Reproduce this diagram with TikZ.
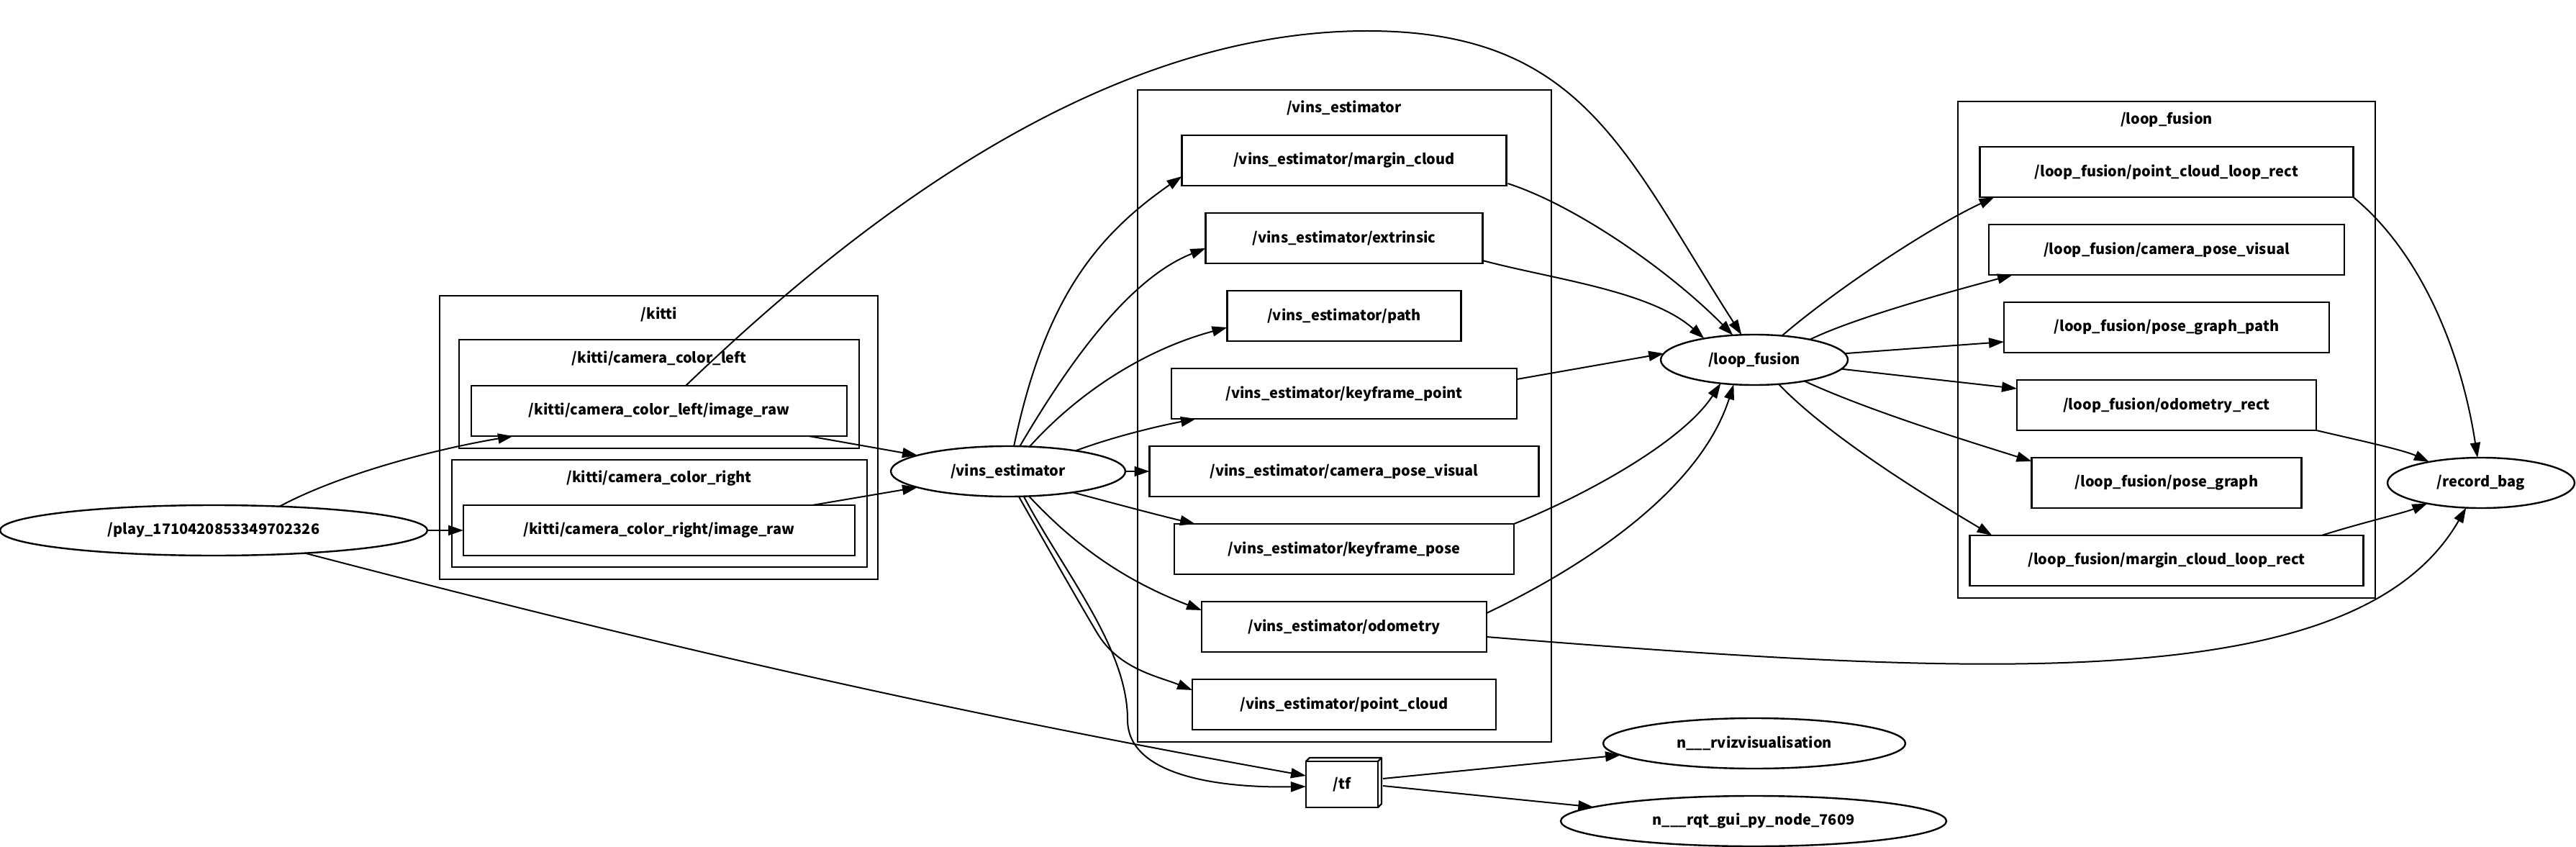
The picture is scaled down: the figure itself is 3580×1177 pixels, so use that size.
\documentclass[tikz,border=0pt]{standalone}
\usepackage{fontspec}
\setmainfont{Noto Sans CJK SC}
\usetikzlibrary{arrows.meta,calc,shapes.geometric}
\begin{document}
\begin{tikzpicture}[x=1pt,y=-1pt,
  lbl/.style={font=\fontsize{20}{24}\selectfont\bfseries, inner sep=0pt},
  topic/.style={draw, line width=2.6pt, rectangle, minimum height=70pt, inner sep=0pt, outer sep=0pt, font=\fontsize{20}{24}\selectfont\bfseries},
  gnode/.style={draw, line width=2.4pt, ellipse, minimum height=70pt, inner sep=0pt, outer sep=0pt, font=\fontsize{20}{24}\selectfont\bfseries},
  cluster/.style={draw, line width=2pt},
  edge/.style={line width=2pt, -{Triangle[length=21pt,width=14pt]}},
]
\fill[white] (0,0) rectangle (3580,1177);
\useasboundingbox (0,0) rectangle (3580,1177);

% clusters
\draw[cluster] (611,411) rectangle (1220,805);
\draw[cluster] (638,472) rectangle (1194,623);
\draw[cluster] (628,639) rectangle (1205,788);
\draw[cluster] (1581,125) rectangle (2156,1031);
\draw[cluster] (2721,141) rectangle (3301,831);
\node[lbl] (lkitti) at (916,437) {/kitti};
\node[lbl] (lkl) at (916,498) {/kitti/camera\_color\_left};
\node[lbl] (lkr) at (916,665) {/kitti/camera\_color\_right};
\node[lbl] (lvins) at (1868,150) {/vins\_estimator};
\node[lbl] (lloop) at (3011,166) {/loop\_fusion};

% nodes
\node[gnode, minimum width=594pt] (play) at (297,737) {/play\_1710420853349702326};
\node[topic, minimum width=522pt] (kl) at (916,571) {/kitti/camera\_color\_left/image\_raw};
\node[topic, minimum width=544pt] (kr) at (916,737) {/kitti/camera\_color\_right/image\_raw};
\node[gnode, minimum width=326pt] (vins) at (1401,655) {/vins\_estimator};
\node[topic, minimum width=451pt] (vmc) at (1868,223) {/vins\_estimator/margin\_cloud};
\node[topic, minimum width=385pt] (vex) at (1868,331) {/vins\_estimator/extrinsic};
\node[topic, minimum width=325pt] (vpath) at (1868,439) {/vins\_estimator/path};
\node[topic, minimum width=480pt] (vkp) at (1868,547) {/vins\_estimator/keyframe\_point};
\node[topic, minimum width=541pt] (vcp) at (1868,655) {/vins\_estimator/camera\_pose\_visual};
\node[topic, minimum width=472pt] (vkpose) at (1868,763) {/vins\_estimator/keyframe\_pose};
\node[topic, minimum width=396pt] (vodo) at (1868,871) {/vins\_estimator/odometry};
\node[topic, minimum width=422pt] (vpc) at (1868,979) {/vins\_estimator/point\_cloud};
\node[gnode, minimum width=260pt] (loopf) at (2438,500) {/loop\_fusion};
\node[topic, minimum width=519pt] (lpc) at (3011,239) {/loop\_fusion/point\_cloud\_loop\_rect};
\node[topic, minimum width=494pt] (lcpv) at (3011,347) {/loop\_fusion/camera\_pose\_visual};
\node[topic, minimum width=452pt] (lpgp) at (3011,455) {/loop\_fusion/pose\_graph\_path};
\node[topic, minimum width=416pt] (lodr) at (3011,563) {/loop\_fusion/odometry\_rect};
\node[topic, minimum width=375pt] (lpg) at (3011,671) {/loop\_fusion/pose\_graph};
\node[topic, minimum width=547pt] (lmc) at (3011,779) {/loop\_fusion/margin\_cloud\_loop\_rect};
\node[gnode, minimum width=260pt] (rb) at (3448,671) {/record\_bag};
\node[topic, minimum width=100pt, minimum height=64pt, line width=2.4pt] (tf) at (1865,1090) {/tf};
\draw[line width=2.2pt, line join=round] (tf.north west) -- ++(5,-5) -- ($(tf.north east)+(5,-5)$) -- ($(tf.south east)+(5,-5)$) -- (tf.south east);
\draw[line width=2.2pt] (tf.north east) -- ++(5,-5);
\node[gnode, minimum width=420pt] (rviz) at (2438,1033) {n\_\_\_rvizvisualisation};
\node[gnode, minimum width=536pt] (rqt) at (2437,1141) {n\_\_\_rqt\_gui\_py\_node\_7609};

% edges
\draw[edge] (play.20) .. controls (470,660) and (600,625) .. ($(kl.south west)+(58,0)$);
\draw[edge] (play.east) -- (kr.west);
\draw[edge] (play.-14) .. controls (923,899) and (1316,989) .. ($(tf.west)+(0,-12)$);
\draw[edge] ($(kl.south east)+(-53,0)$) -- (vins.170);
\draw[edge] ($(kr.north east)+(-59,0)$) -- (vins.190);
\draw[edge] ($(kl.north west)+(298,0)$) .. controls (1173,325) and (1520,43) .. (1900,43) .. controls (2200,43) and (2258,213) .. (loopf.117);

\draw[edge] (vins.77) .. controls (1451,420) and (1520,330) .. ($(vmc.west)+(0,22)$);
\draw[edge] (vins.65) .. controls (1478,517) and (1564,389) .. ($(vex.west)+(0,14)$);
\draw[edge] (vins.49) .. controls (1498,546) and (1590,486) .. ($(vpath.west)+(0,16)$);
\draw[edge] (vins.17) .. controls (1550,606) and (1610,592) .. ($(vkp.south west)+(34,0)$);
\draw[edge] (vins.east) -- (vcp.west);
\draw[edge] (vins.-18) .. controls (1550,700) and (1610,716) .. ($(vkpose.north west)+(29,0)$);
\draw[edge] (vins.-50) .. controls (1505,770) and (1577,812) .. ($(vodo.west)+(0,-23)$);
\draw[edge] (vins.-67) .. controls (1460,768) and (1500,838) .. (1525,880) .. controls (1555,930) and (1610,940) .. ($(vpc.west)+(0,-20)$);
\draw[edge] (vins.-58) .. controls (1479,796) and (1567,900) .. (1567,1000) .. controls (1567,1080) and (1700,1095) .. ($(tf.west)+(0,3)$);

\draw[edge] ($(vmc.south east)+(2,-3)$) .. controls (2191,286) and (2321,377) .. (loopf.131);
\draw[edge] ($(vex.south east)+(0,-4)$) .. controls (2158,388) and (2294,404) .. (loopf.157);
\draw[edge] ($(vkp.east)+(0,-20)$) -- (loopf.176);
\draw[edge] (vkpose.north east) .. controls (2197,691) and (2337,616) .. (loopf.215);
\draw[edge] ($(vodo.east)+(0,-19)$) .. controls (2192,792) and (2361,686) .. (loopf.230);

\draw[edge] (loopf.41) .. controls (2553,401) and (2682,316) .. ($(lpc.south west)+(20,0)$);
\draw[edge] (loopf.20) .. controls (2580,440) and (2730,400) .. ($(lcpv.south west)+(33,0)$);
\draw[edge] (loopf.4) -- ($(lpgp.west)+(0,20)$);
\draw[edge] (loopf.-6) -- ($(lodr.west)+(0,-23)$);
\draw[edge] (loopf.-23) .. controls (2600,572) and (2738,614) .. ($(lpg.north west)+(0,5)$);
\draw[edge] (loopf.-45) .. controls (2549,614) and (2700,703) .. ($(lmc.north west)+(31,0)$);

\draw[edge] (lpc.south east) .. controls (3363,350) and (3420,485) .. (rb.98);
\draw[edge] (lodr.south east) .. controls (3270,610) and (3340,625) .. (rb.158);
\draw[edge] ($(lmc.north east)+(-58,0)$) .. controls (3280,727) and (3340,713) .. (rb.201);
\draw[edge] ($(vodo.east)+(0,14)$) .. controls (2766,941) and (3277,967) .. (rb.-121);

\draw[edge] ($(tf.east)+(7,-8)$) -- (rviz.185);
\draw[edge] ($(tf.east)+(7,2)$) -- (rqt.175);
\end{tikzpicture}
\end{document}
